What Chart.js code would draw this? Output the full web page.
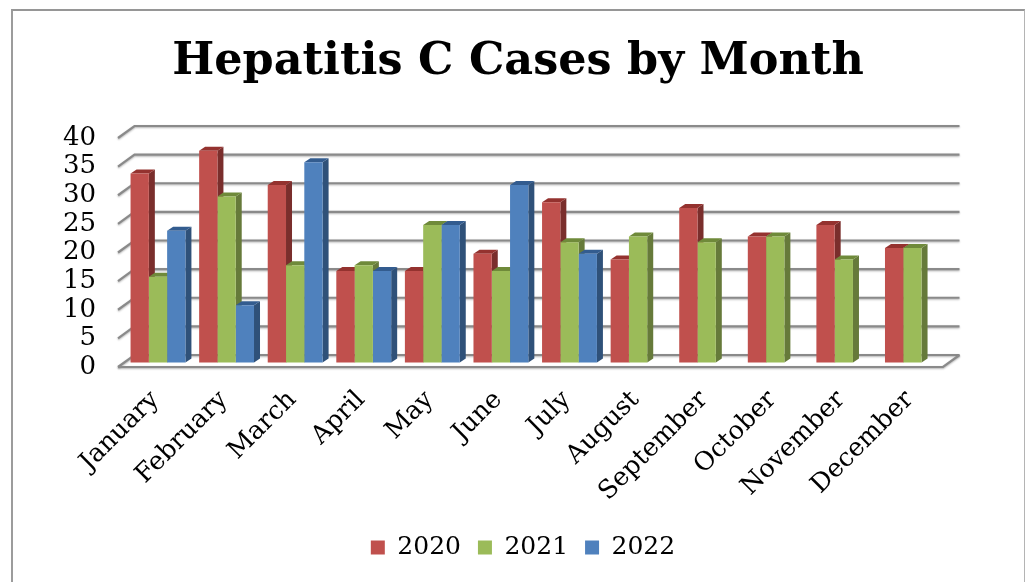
<!DOCTYPE html>
<html>
<head>
<meta charset="utf-8">
<title>Hepatitis C Cases by Month</title>
<script src="https://cdn.jsdelivr.net/npm/chart.js@4"></script>
<style>
    html, body { margin: 0; padding: 0; background: #fff; }
    #wrap { width: 1025px; height: 582px; position: relative; overflow: hidden; }
    #frame { position: absolute; left: 11px; top: 9px; right: 0; bottom: -10px; border-top: 2px solid #969696; border-left: 2px solid #9c9c9c; border-right: 1px solid #b4b4b4; }
    canvas { position: absolute; left: 0; top: 0; }
</style>
</head>
<body>
<div id="wrap"><div id="frame"></div><canvas id="chart" width="1025" height="582"></canvas></div>
<script>
var months = ['January', 'February', 'March', 'April', 'May', 'June', 'July', 'August', 'September', 'October', 'November', 'December'];
var cases2020 = [33, 37, 31, 16, 16, 19, 28, 18, 27, 22, 24, 20];
var cases2021 = [15, 29, 17, 17, 24, 16, 21, 22, 21, 22, 18, 20];
var cases2022 = [23, 10, 35, 16, 24, 31, 19, null, null, null, null, null];

var serif = '"DejaVu Serif", serif';
var front = ['#C0504D', '#9BBB59', '#4F81BD'];
var side = ['#7A2E2C', '#667A3A', '#2F5179'];
var topFace = ['#94322F', '#6F8A3A', '#335C8F'];

// the 3D offsets
var wallDX = 16.5, wallDY = 12;
var wallInsetLeft = 3, wallInsetRight = 1;
var barShiftX = 2.7, barShiftY = 4.5;
var barDX = 6, barDY = 4;
var titleCenter = 518, legendCenter = 523;

function moveBox(box, center) {
    var d = center - (box.left + box.right) / 2;
    box.left += d;
    box.right += d;
}

var walls3d = {
    id: 'walls3d',
    afterLayout: function(chart) {
        // title and legend are not centred on the plot in the original
        moveBox(chart.titleBlock, titleCenter);
        moveBox(chart.legend, legendCenter);
    },
    beforeDatasetsDraw: function(chart) {
        var ctx = chart.ctx;
        var area = chart.chartArea;
        var y = chart.scales.y;
        var x0 = area.left - wallInsetLeft;
        var x1 = area.right - wallInsetRight;

        ctx.save();
        ctx.lineWidth = 2.2;
        ctx.strokeStyle = '#8a8a8a';
        ctx.shadowColor = 'rgba(0,0,0,0.3)';
        ctx.shadowBlur = 2;
        ctx.shadowOffsetY = 1;
        y.ticks.forEach(function(t) {
            var py = y.getPixelForValue(t.value);
            ctx.beginPath();
            ctx.moveTo(x0, py);
            ctx.lineTo(x0 + wallDX, py - wallDY);
            ctx.lineTo(x1 + wallDX, py - wallDY);
            ctx.stroke();
        });
        // floor
        ctx.beginPath();
        ctx.moveTo(x0, area.bottom);
        ctx.lineTo(x1, area.bottom);
        ctx.lineTo(x1 + wallDX, area.bottom - wallDY);
        ctx.stroke();
        ctx.restore();

        // bars are pushed back a bit from the front edge of the floor
        ctx.save();
        ctx.translate(barShiftX, -barShiftY);
        chart.data.datasets.forEach(function(ds, i) {
            var meta = chart.getDatasetMeta(i);
            meta.data.forEach(function(bar, j) {
                if (ds.data[j] === null) return;
                var left = bar.x - bar.width / 2;
                var right = bar.x + bar.width / 2;
                ctx.fillStyle = side[i];
                ctx.beginPath();
                ctx.moveTo(right, bar.y);
                ctx.lineTo(right + barDX, bar.y - barDY);
                ctx.lineTo(right + barDX, bar.base - barDY);
                ctx.lineTo(right, bar.base);
                ctx.closePath();
                ctx.fill();
                ctx.fillStyle = topFace[i];
                ctx.beginPath();
                ctx.moveTo(left, bar.y);
                ctx.lineTo(left + barDX, bar.y - barDY);
                ctx.lineTo(right + barDX, bar.y - barDY);
                ctx.lineTo(right, bar.y);
                ctx.closePath();
                ctx.fill();
            });
        });
        // left on, native fronts get drawn in the same shift
    },
    afterDatasetsDraw: function(chart) {
        chart.ctx.restore();
    }
};

new Chart(document.getElementById('chart'), {
    type: 'bar',
    data: {
        labels: months,
        datasets: [
            { label: '2020', data: cases2020, backgroundColor: front[0] },
            { label: '2021', data: cases2021, backgroundColor: front[1] },
            { label: '2022', data: cases2022, backgroundColor: front[2] }
        ]
    },
    plugins: [walls3d],
    options: {
        responsive: false,
        animation: false,
        events: [],
        clip: false,
        categoryPercentage: 0.8,
        barPercentage: 1,
        layout: { padding: { left: 10, right: 81, top: 0, bottom: 12 } },
        plugins: {
            tooltip: { enabled: false },
            title: {
                display: true,
                text: 'Hepatitis C Cases by Month',
                color: '#000',
                font: { family: serif, size: 44.5, weight: 'bold' },
                padding: { top: 36, bottom: 48.6 }
            },
            legend: {
                position: 'bottom',
                labels: {
                    color: '#000',
                    font: { family: serif, size: 25 },
                    boxWidth: 14,
                    boxHeight: 14,
                    padding: 17
                }
            }
        },
        scales: {
            x: {
                grid: { display: false },
                border: { display: false },
                ticks: {
                    color: '#000',
                    font: { family: serif, size: 25.5 },
                    autoSkip: false,
                    minRotation: 45,
                    maxRotation: 45,
                    padding: 10
                },
                afterFit: function(scale) { scale.height = 151; }
            },
            y: {
                min: 0,
                max: 40,
                grid: { display: false },
                border: { display: false },
                ticks: {
                    color: '#000',
                    stepSize: 5,
                    autoSkip: false,
                    font: { family: serif, size: 26 },
                    padding: 17
                },
                afterFit: function(scale) { scale.width = 111; }
            }
        }
    }
});
</script>
</body>
</html>
